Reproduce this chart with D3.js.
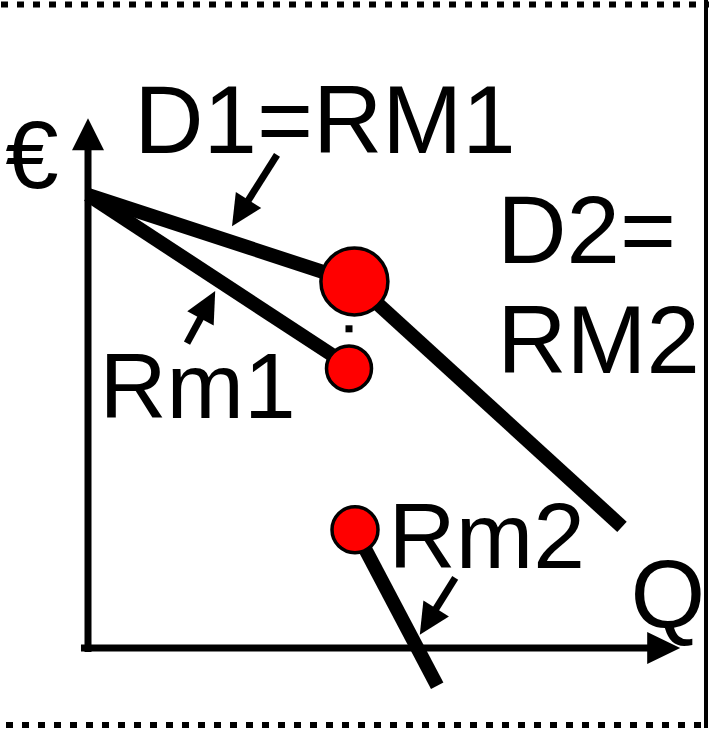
<!DOCTYPE html>
<html>
<head>
<meta charset="utf-8">
<script src="https://cdn.jsdelivr.net/npm/d3@7"></script>
<style>
  body { margin: 0; background: #fff; }
  svg { display: block; }
  .label { font-family: "Liberation Sans", Arial, sans-serif; font-size: 96px; fill: #000; }
  .label.small { font-size: 93px; }
</style>
</head>
<body>
<div id="chart"></div>
<script>
const width = 709, height = 731;

// diagram values, in axis units (Q across, price up)
const demandD1 = [[0, 75.5], [44.3, 61]];          // D1 = RM1
const revenueRm1 = [[0, 75.5], [43.5, 47]];        // Rm1
const demandD2 = [[44.3, 61], [89, 20.2]];         // D2 = RM2
const revenueRm2 = [[44.5, 19.7], [58.2, -6.3]];   // Rm2
const points = [
    { name: 'big', x: 44.4, y: 61.1 },
    { name: 'rm1', x: 43.5, y: 46.6 },
    { name: 'rm2', x: 44.5, y: 19.7 }
];
const gapMark = [43.5, 53.2];

const labelText = ['€', 'D1=RM1', 'D2=', 'RM2', 'Rm1', 'Rm2', 'Q'];
const labelX = [-13.8, 7.7, 68.2, 68.2, 1.9, 50.1, 90.4];
const labelY = [76.7, 82.5, 64.2, 45.8, 38.3, 13.3, 3.3];

// pointer arrows: [tail, tip]
const pointers = [
    [[31.5, 82.2], [24, 70.3]],
    [[16.5, 50.8], [21.2, 59.5]],
    [[61.2, 11.7], [55.3, 2.2]]
];

const xAxisEnds = [-1.17, 98.7];
const yAxisEnds = [-0.67, 88.3];

const x = d3.scaleLinear().domain([0, 100]).range([88, 688]);
const y = d3.scaleLinear().domain([0, 100]).range([648, 48]);

const svg = d3.select('#chart').append('svg')
    .attr('width', width)
    .attr('height', height);

svg.append('rect').attr('width', width).attr('height', height).attr('fill', '#fff');

// frame: dotted top/bottom, solid right
svg.append('line')
    .attr('x1', 1).attr('x2', width).attr('y1', 4.5).attr('y2', 4.5)
    .attr('stroke', '#000').attr('stroke-width', 6).attr('stroke-dasharray', '7 9');
svg.append('line')
    .attr('x1', 6).attr('x2', width).attr('y1', 725).attr('y2', 725)
    .attr('stroke', '#000').attr('stroke-width', 6).attr('stroke-dasharray', '7 9');
svg.append('line')
    .attr('x1', 706).attr('x2', 706).attr('y1', 0).attr('y2', 728)
    .attr('stroke', '#000').attr('stroke-width', 4);

function arrowHead(g, x1, y1, x2, y2, len, half) {
    const dx = x2 - x1, dy = y2 - y1;
    const d = Math.sqrt(dx * dx + dy * dy);
    const ux = dx / d, uy = dy / d;
    const bx = x2 - ux * len, by = y2 - uy * len;
    g.append('path')
        .attr('d', 'M' + x2 + ',' + y2 +
            'L' + (bx - uy * half) + ',' + (by + ux * half) +
            'L' + (bx + uy * half) + ',' + (by - ux * half) + 'Z')
        .attr('fill', '#000');
    return [bx + ux * 2, by + uy * 2];
}

function arrow(g, x1, y1, x2, y2, w, len, half) {
    const base = arrowHead(g, x1, y1, x2, y2, len, half);
    g.append('line')
        .attr('x1', x1).attr('y1', y1).attr('x2', base[0]).attr('y2', base[1])
        .attr('stroke', '#000').attr('stroke-width', w);
}

// axes
const axes = svg.append('g').attr('class', 'axes');
arrow(axes, x(0), y(yAxisEnds[0]), x(0), y(yAxisEnds[1]), 7, 32, 16);
arrow(axes, x(xAxisEnds[0]), y(0), x(xAxisEnds[1]), y(0), 7, 33, 16);

// curves
const line = d3.line().x(d => x(d[0])).y(d => y(d[1]));
const curves = svg.append('g').attr('class', 'curves');
[demandD1, revenueRm1, demandD2, revenueRm2].forEach(function(c) {
    curves.append('path')
        .attr('d', line(c))
        .attr('fill', 'none')
        .attr('stroke', '#000')
        .attr('stroke-width', 14);
});

svg.append('rect')
    .attr('x', x(gapMark[0]) - 3.5).attr('y', y(gapMark[1]) - 3.5)
    .attr('width', 7).attr('height', 7).attr('fill', '#000');

const radius = { big: 33.5, rm1: 22.5, rm2: 23 };
svg.append('g').selectAll('circle')
    .data(points)
    .enter().append('circle')
    .attr('cx', d => x(d.x))
    .attr('cy', d => y(d.y))
    .attr('r', d => radius[d.name])
    .attr('fill', '#ff0000')
    .attr('stroke', '#000')
    .attr('stroke-width', 3.5);

// labels
svg.append('g').selectAll('text')
    .data(labelText)
    .enter().append('text')
    .attr('class', d => d.startsWith('Rm') ? 'label small' : 'label')
    .attr('x', (d, i) => x(labelX[i]))
    .attr('y', (d, i) => y(labelY[i]))
    .text(d => d);

// pointer arrows
const ptr = svg.append('g').attr('class', 'pointers');
pointers.forEach(function(p) {
    arrow(ptr, x(p[0][0]), y(p[0][1]), x(p[1][0]), y(p[1][1]), 7, 31, 15);
});
</script>
</body>
</html>
